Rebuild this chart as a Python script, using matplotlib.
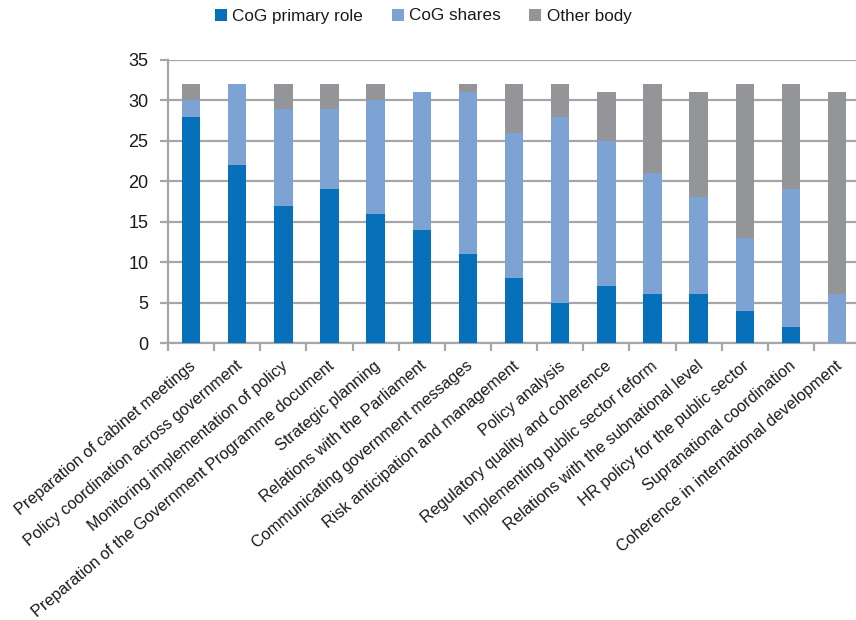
import matplotlib
matplotlib.use("Agg")
import matplotlib.pyplot as plt
import numpy as np

categories = [
    "Preparation of cabinet meetings",
    "Policy coordination across government",
    "Monitoring implementation of policy",
    "Preparation of the Government Programme document",
    "Strategic planning",
    "Relations with the Parliament",
    "Communicating government messages",
    "Risk anticipation and management",
    "Policy analysis",
    "Regulatory quality and coherence",
    "Implementing public sector reform",
    "Relations with the subnational level",
    "HR policy for the public sector",
    "Supranational coordination",
    "Coherence in international development",
]
primary_role = [28, 22, 17, 19, 16, 14, 11, 8, 5, 7, 6, 6, 4, 2, 0]
cog_shares = [2, 10, 12, 10, 14, 17, 20, 18, 23, 18, 15, 12, 9, 17, 6]
other_body = [2, 0, 3, 3, 2, 0, 1, 6, 4, 6, 11, 13, 19, 13, 25]
series_names = ["CoG primary role", "CoG shares", "Other body"]
y_ticks = [0, 5, 10, 15, 20, 25, 30, 35]

colors = ["#0770BB", "#7DA3D5", "#939598"]
grid_col = "#A6A6A8"
text_col = "#1a1a1a"

plt.rcParams["font.family"] = ["Liberation Sans", "DejaVu Sans"]

fig = plt.figure(figsize=(8.56, 6.2), dpi=100)
ax = fig.add_axes([168 / 856, 1 - 343 / 620, (856 - 168) / 856, (343 - 60) / 620])

x = np.arange(len(categories))
p = np.array(primary_role)
s = np.array(cog_shares)
o = np.array(other_body)
w = 0.4
ax.bar(x, p, w, color=colors[0], label=series_names[0], zorder=3)
ax.bar(x, s, w, bottom=p, color=colors[1], label=series_names[1], zorder=3)
ax.bar(x, o, w, bottom=p + s, color=colors[2], label=series_names[2], zorder=3)

ax.set_xlim(-0.5, 14.41)
ax.set_ylim(0, 35)
ax.set_yticks(y_ticks)
ax.yaxis.grid(True, color=grid_col, linewidth=1.6, zorder=0)
ax.set_axisbelow(True)
for side in ["top", "right"]:
    ax.spines[side].set_visible(False)
for side in ["left", "bottom"]:
    ax.spines[side].set_color(grid_col)
    ax.spines[side].set_linewidth(1.6)
ax.tick_params(axis="y", length=6, width=1.6, color=grid_col, labelsize=13,
               labelcolor=text_col, pad=8)

# boundary ticks between categories
ax.set_xticks(np.arange(-0.5, 14.5, 1.0), minor=True)
ax.set_xticks(x + 0.06)
ax.tick_params(axis="x", which="minor", length=6, width=1.6, color=grid_col, direction="out")
ax.tick_params(axis="x", which="major", length=0, pad=15)
ax.set_xticklabels(categories, rotation=40, ha="right", rotation_mode="anchor",
                   fontsize=11.7, color=text_col)
for lbl in ax.get_xticklabels():
    lbl.set_va("center")

leg = fig.legend(loc="center", bbox_to_anchor=(423 / 856, 1 - 16 / 620), ncol=3,
                 frameon=False, fontsize=12.3, handlelength=0.7, handleheight=0.7,
                 handletextpad=0.3, columnspacing=1.7)
for t in leg.get_texts():
    t.set_color(text_col)

fig.savefig("out.png", dpi=100)
